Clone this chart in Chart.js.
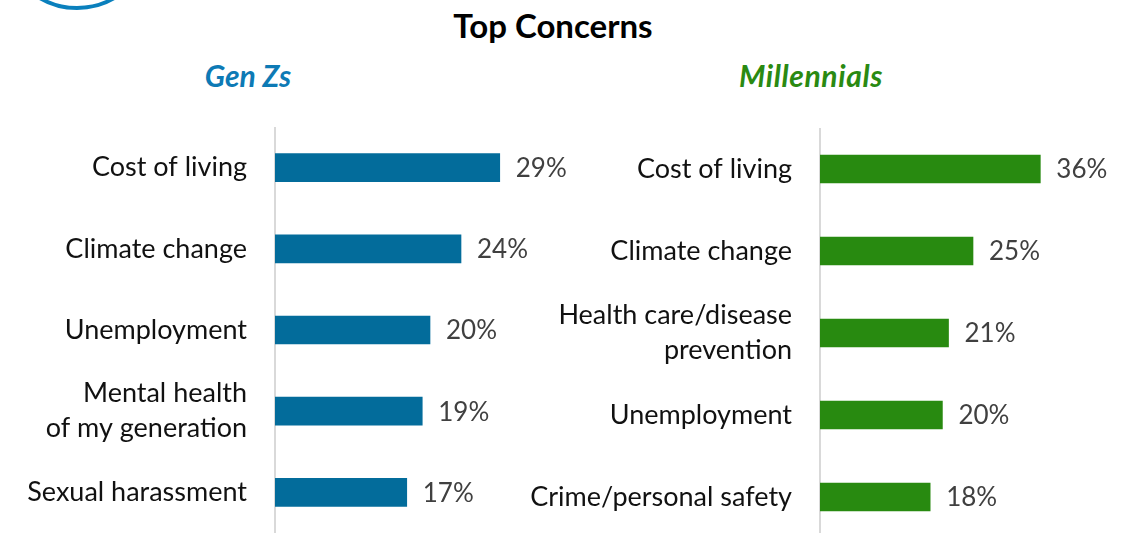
<!DOCTYPE html>
<html>
<head>
<meta charset="utf-8">
<script src="https://cdn.jsdelivr.net/npm/chart.js@4/dist/chart.umd.min.js"></script>
<style>
  html, body { margin: 0; padding: 0; background: #fff; overflow: hidden; }
  body { width: 1132px; height: 533px; position: relative; font-family: Lato, "Noto Sans", sans-serif; }
  .logo { position: absolute; left: 2px; top: -140px; width: 142px; height: 142px; border: 4px solid #0a80bd; border-radius: 50%; }
  .title { position: absolute; top: 5px; left: 0; width: 1106px; text-align: center; font-size: 33px; font-weight: bold; color: #000; }
  .sub { position: absolute; top: 57px; font-size: 30px; font-weight: bold; font-style: italic; }
  #genz_title { left: 148px; width: 200px; text-align: center; color: #0d7ab5; }
  #mill_title { left: 711px; width: 200px; text-align: center; color: #2a8a12; letter-spacing: 0.6px; }
  .box { position: absolute; }
</style>
</head>
<body>
<div class="logo"></div>
<div class="title">Top Concerns</div>
<div class="sub" id="genz_title">Gen Zs</div>
<div class="sub" id="mill_title">Millennials</div>
<div class="box" style="left:0;top:127px;width:585px;height:406px"><canvas id="genz"></canvas></div>
<div class="box" style="left:500px;top:128px;width:626px;height:410px"><canvas id="mill"></canvas></div>

<script>
var GENZ_LABELS = ['Cost of living', 'Climate change', 'Unemployment', ['Mental health', 'of my generation'], 'Sexual harassment'];
var GENZ_VALUES = [29, 24, 20, 19, 17];
var MILL_LABELS = ['Cost of living', 'Climate change', ['Health care/disease', 'prevention'], 'Unemployment', 'Crime/personal safety'];
var MILL_VALUES = [36, 25, 21, 20, 18];

var FONT = 'Lato, "Noto Sans", sans-serif';

// value labels right of each bar
var valueLabels = {
    id: 'valueLabels',
    afterDatasetsDraw: function(chart) {
        var ctx = chart.ctx;
        var meta = chart.getDatasetMeta(0);
        ctx.save();
        ctx.font = '26px ' + FONT;
        ctx.fillStyle = '#404040';
        ctx.textAlign = 'left';
        ctx.textBaseline = 'middle';
        meta.data.forEach(function(bar, i) {
            ctx.fillText(chart.data.datasets[0].data[i] + '%', bar.x + 16, bar.y + 1);
        });
        ctx.restore();
    }
};

function makeChart(id, labels, values, color, axisWidth, max) {
    return new Chart(document.getElementById(id), {
        type: 'bar',
        data: {
            labels: labels,
            datasets: [{ data: values, backgroundColor: color, barThickness: 28 }]
        },
        options: {
            indexAxis: 'y',
            responsive: true,
            maintainAspectRatio: false,
            animation: false,
            layout: { padding: 0 },
            plugins: { legend: { display: false }, tooltip: { enabled: false } },
            scales: {
                x: { display: false, min: 0, max: max },
                y: {
                    grid: { display: false, drawTicks: false },
                    border: { display: true, color: '#d9d9d9', width: 2 },
                    ticks: { color: '#111', padding: 28, font: { family: FONT, size: 27, lineHeight: 1.3 } },
                    afterFit: function(scale) {
                        scale.width = axisWidth;
                        // tick padding would otherwise push the chart area down
                        scale.paddingTop = 0;
                        scale.paddingBottom = 0;
                    }
                }
            }
        },
        plugins: [valueLabels]
    });
}

makeChart('genz', GENZ_LABELS, GENZ_VALUES, '#036c9b', 275, 40);
makeChart('mill', MILL_LABELS, MILL_VALUES, '#288a10', 320, 50);
</script>
</body>
</html>
